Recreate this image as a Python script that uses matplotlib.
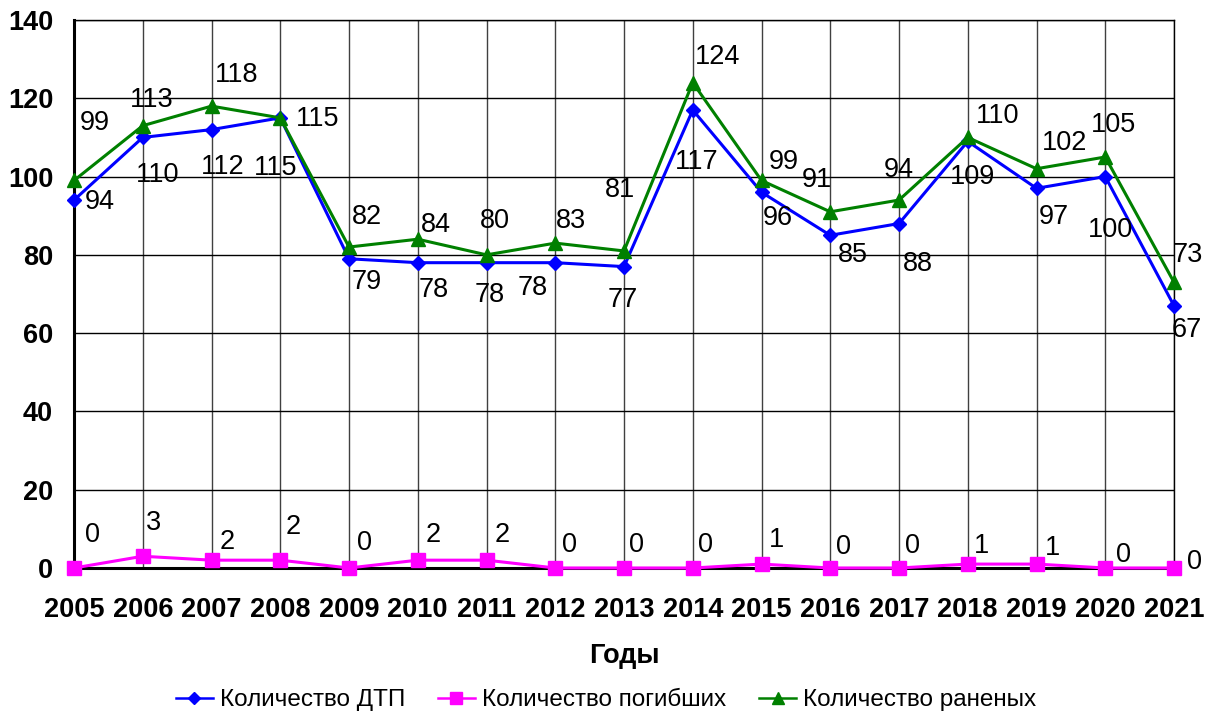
import matplotlib
matplotlib.use("Agg")
import matplotlib.pyplot as plt

plt.rcParams["font.family"] = ["Liberation Sans", "DejaVu Sans"]

# Data
years = list(range(2005, 2022))
dtp = [94, 110, 112, 115, 79, 78, 78, 78, 77, 117, 96, 85, 88, 109, 97, 100, 67]
killed = [0, 3, 2, 2, 0, 2, 2, 0, 0, 0, 1, 0, 0, 1, 1, 0, 0]
injured = [99, 113, 118, 115, 82, 84, 80, 83, 81, 124, 99, 91, 94, 110, 102, 105, 73]
y_ticks = [0, 20, 40, 60, 80, 100, 120, 140]

# Label offsets (pixels, x right / y up) to mimic the original label placement
off_dtp = [(26, -2), (15, -38), (11, -37), (-5, -50), (18, -23), (16, -27), (3, -32),
           (-23, -25), (-1, -33), (4, -52), (16, -26), (23, -20), (19, -40), (5, -36),
           (17, -29), (5, -53), (13, -24)]
off_killed = [(19, 33), (11, 33), (16, 18), (13, 33), (16, 25), (15, 25), (16, 25),
              (14, 23), (12, 23), (13, 23), (15, 24), (13, 21), (14, 22), (14, 18),
              (16, 16), (18, 13), (21, 6)]
off_injured = [(21, 57), (9, 26), (25, 31), (37, -1), (18, 30), (18, 14), (8, 34),
               (16, 22), (-4, 61), (25, 26), (22, 18), (-13, 32), (0, 30), (30, 21),
               (28, 26), (8, 32), (14, 27)]

fig = plt.figure(figsize=(12.16, 7.16), dpi=100)
ax = fig.add_axes([74 / 1216, 1 - 568 / 716, 1100 / 1216, 548 / 716])

ax.plot(years, dtp, color="#0000FF", linewidth=2.2, marker="D", markersize=7.5,
        label="Количество ДТП", clip_on=False, zorder=3)
ax.plot(years, killed, color="#FF00FF", linewidth=2.2, marker="s", markersize=10,
        label="Количество погибших", clip_on=False, zorder=4)
ax.plot(years, injured, color="#008000", linewidth=2.2, marker="^", markersize=10,
        label="Количество раненых", clip_on=False, zorder=5)

for series, offs in [(dtp, off_dtp), (killed, off_killed), (injured, off_injured)]:
    for x, v, (dx, dy) in zip(years, series, offs):
        ax.annotate(str(v), (x, v), xytext=(dx, dy), textcoords="offset pixels",
                    ha="center", va="center", fontsize=19.5, zorder=6)

ax.set_xlim(2005, 2021)
ax.set_ylim(0, 140)
ax.set_xticks(years)
ax.set_yticks(y_ticks)
ax.tick_params(length=0, labelsize=19.5)
ax.tick_params(axis="x", pad=21)
ax.tick_params(axis="y", pad=15)
for lbl in ax.get_xticklabels() + ax.get_yticklabels():
    lbl.set_fontweight("bold")

ax.grid(axis="y", color="black", linewidth=1)
ax.grid(axis="x", color="#404040", linewidth=1)
ax.set_axisbelow(True)

for side in ["top", "right"]:
    ax.spines[side].set_linewidth(1)
    ax.spines[side].set_color("black")
for side in ["left", "bottom"]:
    ax.spines[side].set_linewidth(2.2)
    ax.spines[side].set_color("black")

ax.set_xlabel("Годы", fontsize=19.5, fontweight="bold", labelpad=14)

leg = fig.legend(loc="center", bbox_to_anchor=(606 / 1216, 1 - 700 / 716), ncol=3,
                 frameon=False, fontsize=17.5, handlelength=1.52, columnspacing=1.36,
                 handletextpad=0.29, markerscale=0.85)
for line in leg.get_lines():
    line.set_linewidth(1.8)

plt.savefig("out.png", dpi=100)
plt.close()
